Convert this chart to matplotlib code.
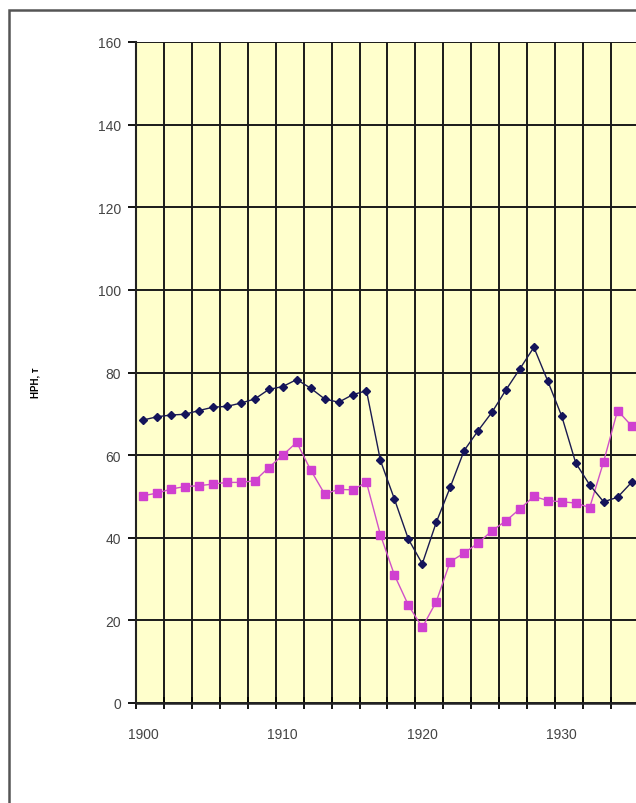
import matplotlib
matplotlib.use("Agg")
import matplotlib.pyplot as plt
from matplotlib.patches import Rectangle
from matplotlib.ticker import FixedLocator, NullFormatter

years = list(range(1900, 1936))
series_dark = [68.5, 69.3, 69.7, 69.9, 70.8, 71.6, 71.8, 72.6, 73.6, 75.9,
               76.6, 78.3, 76.2, 73.6, 72.8, 74.6, 75.6, 58.7, 49.4, 39.7,
               33.7, 43.7, 52.2, 61.1, 65.9, 70.4, 75.8, 80.9, 86.1, 77.9,
               69.4, 58.1, 52.8, 48.7, 49.8, 53.4]
series_pink = [50.2, 50.8, 51.8, 52.4, 52.6, 53.0, 53.4, 53.4, 53.8, 57.0,
               60.0, 63.1, 56.4, 50.6, 51.7, 51.6, 53.4, 40.7, 31.0, 23.7,
               18.3, 24.5, 34.2, 36.3, 38.7, 41.7, 44.1, 47.0, 50.0, 49.0,
               48.7, 48.4, 47.3, 58.4, 70.8, 67.1]
y_ticks = [0, 20, 40, 60, 80, 100, 120, 140, 160]
x_label_years = [1900, 1910, 1920, 1930]
y_label = "НРН, т"

W, H = 636, 804
fig = plt.figure(figsize=(W / 100, H / 100), dpi=100)
fig.patch.set_facecolor("white")

# outer chart border (cropped on right and bottom)
fig.patches.append(Rectangle((9 / W, -0.1), 1.2, (H - 11) / H + 0.1,
                             transform=fig.transFigure, fill=False,
                             edgecolor="#555555", linewidth=1.8))

px_per_year = 13.95
x0_year = 1899.5
x0_px = 136.3
x1_year = 1941.5
left = x0_px / W
width = (x1_year - x0_year) * px_per_year / W
bottom = (H - 704) / H
height = (704 - 43) / H
ax = fig.add_axes([left, bottom, width, height])
ax.set_facecolor("#FFFFCC")

ax.set_xlim(x0_year, x1_year)
ax.set_ylim(0, 160)

grid_x = [x0_year + 2 * k for k in range(0, 22)]
ax.xaxis.set_major_locator(FixedLocator(grid_x))
ax.xaxis.set_major_formatter(NullFormatter())
ax.xaxis.set_minor_locator(FixedLocator(x_label_years))
ax.set_xticklabels([str(y) for y in x_label_years], minor=True)
ax.tick_params(axis="x", which="major", direction="inout", length=8, width=1.3, color="black")
ax.tick_params(axis="x", which="minor", length=0, pad=17, labelsize=10, labelcolor="#444444")
ax.set_yticks(y_ticks)
ax.tick_params(axis="y", direction="out", length=6, width=1.3, color="black",
               labelsize=10, labelcolor="#444444", pad=5)
for lab in ax.get_xticklabels(minor=True) + ax.get_yticklabels():
    lab.set_family(["Liberation Sans", "DejaVu Sans"])

ax.grid(True, which="major", color="#1a1a1a", linewidth=1.4)
ax.set_axisbelow(True)
for s in ["top", "right"]:
    ax.spines[s].set_visible(False)
ax.spines["left"].set_color("#222222")
ax.spines["left"].set_linewidth(1.5)
ax.spines["bottom"].set_color("#222222")
ax.spines["bottom"].set_linewidth(1.8)

ax.plot(years, series_dark, color="#1a1a50", linewidth=1.0, marker="D",
        markersize=4.5, markerfacecolor="#14145a", markeredgecolor="#14145a", zorder=4)
ax.plot(years, series_pink, color="#d050c8", linewidth=1.0, marker="s",
        markersize=6, markerfacecolor="#d040d0", markeredgecolor="#d040d0", zorder=3)

fig.text(36 / W, 1 - 383 / H, y_label, rotation=90, ha="center", va="center",
         fontsize=7, fontweight="bold", family=["Liberation Sans", "DejaVu Sans"])

fig.savefig("out.png", dpi=100)
